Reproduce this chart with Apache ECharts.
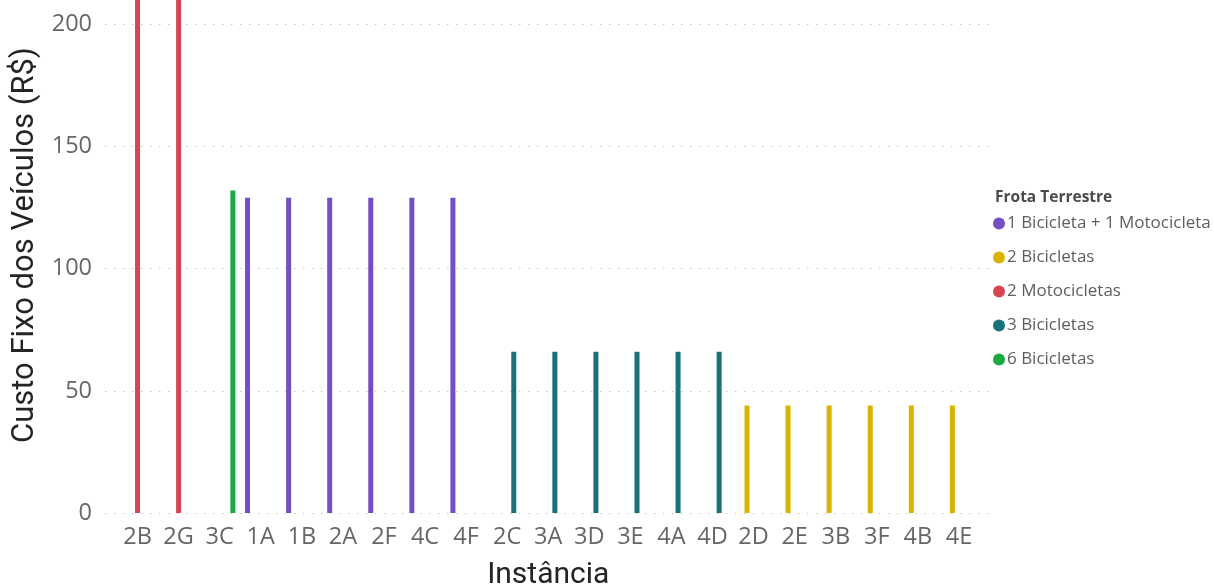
<!DOCTYPE html>
<html>
<head>
<meta charset="utf-8">
<script src="https://cdn.jsdelivr.net/npm/echarts@6/dist/echarts.min.js"></script>
<style>
  html, body { margin: 0; padding: 0; background: #ffffff; }
  #chart { width: 1214px; height: 587px; }
</style>
</head>
<body>
<div id="chart"></div>
<script>
// Instances, in the order they are plotted
const categories = ['2B', '2G', '3C', '1A', '1B', '2A', '2F', '4C', '4F', '2C', '3A', '3D', '3E', '4A', '4D', '2D', '2E', '3B', '3F', '4B', '4E'];

// Land fleet used by each instance
const fleetOfInstance = [
  '2 Motocicletas', '2 Motocicletas', '6 Bicicletas',
  '1 Bicicleta + 1 Motocicleta', '1 Bicicleta + 1 Motocicleta', '1 Bicicleta + 1 Motocicleta',
  '1 Bicicleta + 1 Motocicleta', '1 Bicicleta + 1 Motocicleta', '1 Bicicleta + 1 Motocicleta',
  '3 Bicicletas', '3 Bicicletas', '3 Bicicletas', '3 Bicicletas', '3 Bicicletas', '3 Bicicletas',
  '2 Bicicletas', '2 Bicicletas', '2 Bicicletas', '2 Bicicletas', '2 Bicicletas', '2 Bicicletas'
];

// Fixed vehicle cost (R$) of each instance
const fixedCost = [214, 214, 132, 129, 129, 129, 129, 129, 129, 66, 66, 66, 66, 66, 66, 44, 44, 44, 44, 44, 44];

// Legend order and colours of the fleets
const fleets = ['1 Bicicleta + 1 Motocicleta', '2 Bicicletas', '2 Motocicletas', '3 Bicicletas', '6 Bicicletas'];
const fleetColors = ['#744EC2', '#D9B300', '#D64550', '#197278', '#1AAB40'];

// Value-axis ticks
const yTicks = [0, 50, 100, 150, 200];

const tickFont = '"Open Sans", "Noto Sans", sans-serif';
const titleFont = 'Roboto, "Noto Sans", sans-serif';

const series = fleets.map((name, k) => ({
  name: name,
  type: 'bar',
  xAxisIndex: 1,
  yAxisIndex: 1,
  barWidth: 5,
  barGap: '32%',
  clip: true,
  itemStyle: { color: fleetColors[k] },
  data: categories.map((c, i) => (fleetOfInstance[i] === name ? fixedCost[i] : '-'))
}));

const chart = echarts.init(document.getElementById('chart'), null, { renderer: 'canvas' });
chart.setOption({
  animation: false,
  color: fleetColors,
  title: {
    text: 'Frota Terrestre',
    left: 990,
    top: 185,
    textStyle: { fontFamily: '"Open Sans", sans-serif', fontSize: 15.5, fontWeight: 'bold', color: '#4A4A4A' }
  },
  legend: {
    orient: 'vertical',
    left: 988,
    top: 210,
    icon: 'circle',
    itemWidth: 12,
    itemHeight: 12,
    itemGap: 17,
    data: fleets,
    textStyle: { fontFamily: tickFont, fontSize: 17, color: '#605E5C', padding: [0, 0, 0, -3] }
  },
  grid: [
    { left: 105, right: 224, top: 24.3, bottom: 74, containLabel: false, outerBoundsMode: 'none' },
    { left: 117, right: 234.5, top: 0, bottom: 74, containLabel: false, outerBoundsMode: 'none' }
  ],
  xAxis: [
    { gridIndex: 0, type: 'value', show: false },
    {
      gridIndex: 1,
      type: 'category',
      data: categories,
      axisLine: { show: false },
      axisTick: { show: false },
      axisLabel: { fontFamily: tickFont, fontSize: 23.5, fontWeight: 'normal', color: '#666666', margin: 12, interval: 0 },
      name: 'Instância',
      nameLocation: 'middle',
      nameGap: 47,
      nameTextStyle: { fontFamily: titleFont, fontSize: 30, color: '#252423' }
    }
  ],
  yAxis: [
    {
      gridIndex: 0,
      type: 'value',
      min: yTicks[0],
      max: yTicks[yTicks.length - 1],
      interval: 50,
      axisLine: { show: false },
      axisTick: { show: false },
      axisLabel: { fontFamily: tickFont, fontSize: 23.5, fontWeight: 'normal', color: '#666666', margin: 13 },
      splitLine: { show: true, lineStyle: { color: '#C8C6C4', type: [1.5, 7.5], width: 1.2 } },
      name: 'Custo Fixo dos Veículos (R$)',
      nameLocation: 'middle',
      nameGap: 62,
      nameTextStyle: { fontFamily: titleFont, fontSize: 31, color: '#252423', padding: [0, 0, 0, 47] }
    },
    { gridIndex: 1, type: 'value', min: 0, max: 210, show: false }
  ],
  series: series
});
</script>
</body>
</html>
